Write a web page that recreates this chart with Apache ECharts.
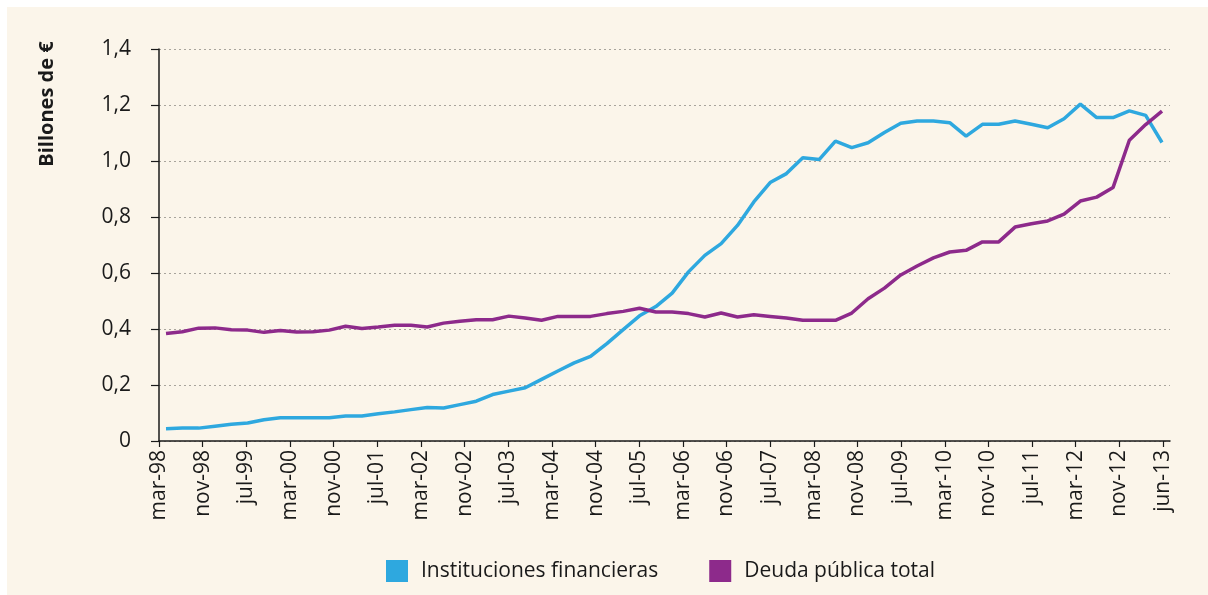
<!DOCTYPE html>
<html>
<head>
<meta charset="utf-8">
<script src="https://cdn.jsdelivr.net/npm/echarts@6/dist/echarts.min.js"></script>
<style>
  html, body { margin: 0; padding: 0; background: #ffffff; }
  #chart { position: absolute; left: 7px; top: 7px; width: 1201px; height: 588px; background: #fbf5ea; }
</style>
</head>
<body>
<div id="chart"></div>
<script>
// etiquetas del eje x (cada 8 meses, más la última)
const tickLabels = ['mar-98', 'nov-98', 'jul-99', 'mar-00', 'nov-00', 'jul-01', 'mar-02', 'nov-02',
  'jul-03', 'mar-04', 'nov-04', 'jul-05', 'mar-06', 'nov-06', 'jul-07', 'mar-08', 'nov-08',
  'jul-09', 'mar-10', 'nov-10', 'jul-11', 'mar-12', 'nov-12', 'jun-13']

// datos trimestrales mar-98 .. jun-13
const quarters = []
for (let y = 1998; y <= 2013; y++) {
  for (const m of ['mar', 'jun', 'sep', 'dic']) {
    if (y === 2013 && (m === 'sep' || m === 'dic')) continue
    quarters.push(m + '-' + String(y).slice(2))
  }
}

const instituciones = [
  0.044, 0.046, 0.046, 0.053, 0.060, 0.064, 0.076, 0.083, 0.083, 0.083,
  0.083, 0.089, 0.089, 0.097, 0.104, 0.112, 0.120, 0.118, 0.130, 0.142,
  0.166, 0.178, 0.190, 0.220, 0.250, 0.279, 0.302, 0.348, 0.398, 0.447,
  0.480, 0.528, 0.604, 0.663, 0.705, 0.770, 0.854, 0.923, 0.955, 1.012,
  1.005, 1.071, 1.048, 1.065, 1.102, 1.135, 1.143, 1.143, 1.137, 1.089,
  1.131, 1.131, 1.143, 1.131, 1.119, 1.151, 1.203, 1.155, 1.155, 1.179,
  1.163, 1.066
]

const deudaPublica = [
  0.384, 0.390, 0.403, 0.404, 0.397, 0.396, 0.388, 0.395, 0.389, 0.390,
  0.396, 0.410, 0.402, 0.407, 0.413, 0.413, 0.407, 0.421, 0.428, 0.433,
  0.433, 0.446, 0.439, 0.431, 0.445, 0.445, 0.445, 0.455, 0.463, 0.474,
  0.461, 0.461, 0.455, 0.443, 0.457, 0.443, 0.451, 0.445, 0.439, 0.431,
  0.431, 0.431, 0.457, 0.508, 0.546, 0.593, 0.625, 0.654, 0.675, 0.681,
  0.711, 0.711, 0.764, 0.776, 0.786, 0.810, 0.857, 0.871, 0.905, 1.074,
  1.130, 1.178
]

const blue = '#2ea8df'
const purple = '#8d2a8b'
const font = '"Open Sans", "Noto Sans", sans-serif'

const chart = echarts.init(document.getElementById('chart'))

const tickIdx = tickLabels.map((_, i) => i)

const option = {
  animation: false,
  textStyle: { fontFamily: font },
  grid: { left: 152, top: 42, width: 1011, height: 392, containLabel: false },
  graphic: [{
    type: 'text',
    x: 40,
    y: 97,
    rotation: Math.PI / 2,
    style: {
      text: 'Billones de €',
      font: 'bold 20px ' + font,
      fill: '#1a1a1a',
      align: 'center',
      verticalAlign: 'middle'
    }
  }],
  legend: {
    left: 379,
    top: 553,
    padding: 0,
    icon: 'rect',
    itemWidth: 22,
    itemHeight: 22,
    itemGap: 51,
    textStyle: { fontSize: 21, color: '#1a1a1a', fontFamily: font, padding: [0, 0, 0, 8] },
    data: ['Instituciones financieras', 'Deuda pública total']
  },
  xAxis: [{
    type: 'value',
    min: 0,
    max: 23.16,
    axisLine: { lineStyle: { color: '#1a1a1a', width: 1.5 } },
    axisTick: { show: true, length: 6, customValues: tickIdx, lineStyle: { color: '#1a1a1a', width: 1.2 } },
    axisLabel: {
      customValues: tickIdx,
      rotate: 90,
      margin: 9,
      fontSize: 21,
      color: '#1a1a1a',
      formatter: v => tickLabels[Math.round(v)] || ''
    },
    splitLine: { show: false }
  }, {
    type: 'value',
    show: false,
    min: -0.429,
    max: 61.49
  }],
  yAxis: {
    type: 'value',
    min: 0,
    max: 1.4,
    interval: 0.2,
    axisLine: { show: true, lineStyle: { color: '#1a1a1a', width: 1.5 } },
    axisTick: { show: true, length: 8, lineStyle: { color: '#1a1a1a', width: 1.2 } },
    axisLabel: {
      margin: 28,
      fontSize: 21,
      color: '#1a1a1a',
      formatter: v => v === 0 ? '0' : v.toFixed(1).replace('.', ',')
    },
    splitLine: { show: true, lineStyle: { color: '#a8a49c', type: [2, 3], width: 1.2 } }
  },
  series: [{
    name: 'Instituciones financieras',
    type: 'line',
    xAxisIndex: 1,
    symbol: 'none',
    color: blue,
    lineStyle: { color: blue, width: 3.5 },
    data: instituciones.map((v, i) => [i, v])
  }, {
    name: 'Deuda pública total',
    type: 'line',
    xAxisIndex: 1,
    symbol: 'none',
    color: purple,
    lineStyle: { color: purple, width: 3.5 },
    data: deudaPublica.map((v, i) => [i, v])
  }]
}

chart.setOption(option)
</script>
</body>
</html>
